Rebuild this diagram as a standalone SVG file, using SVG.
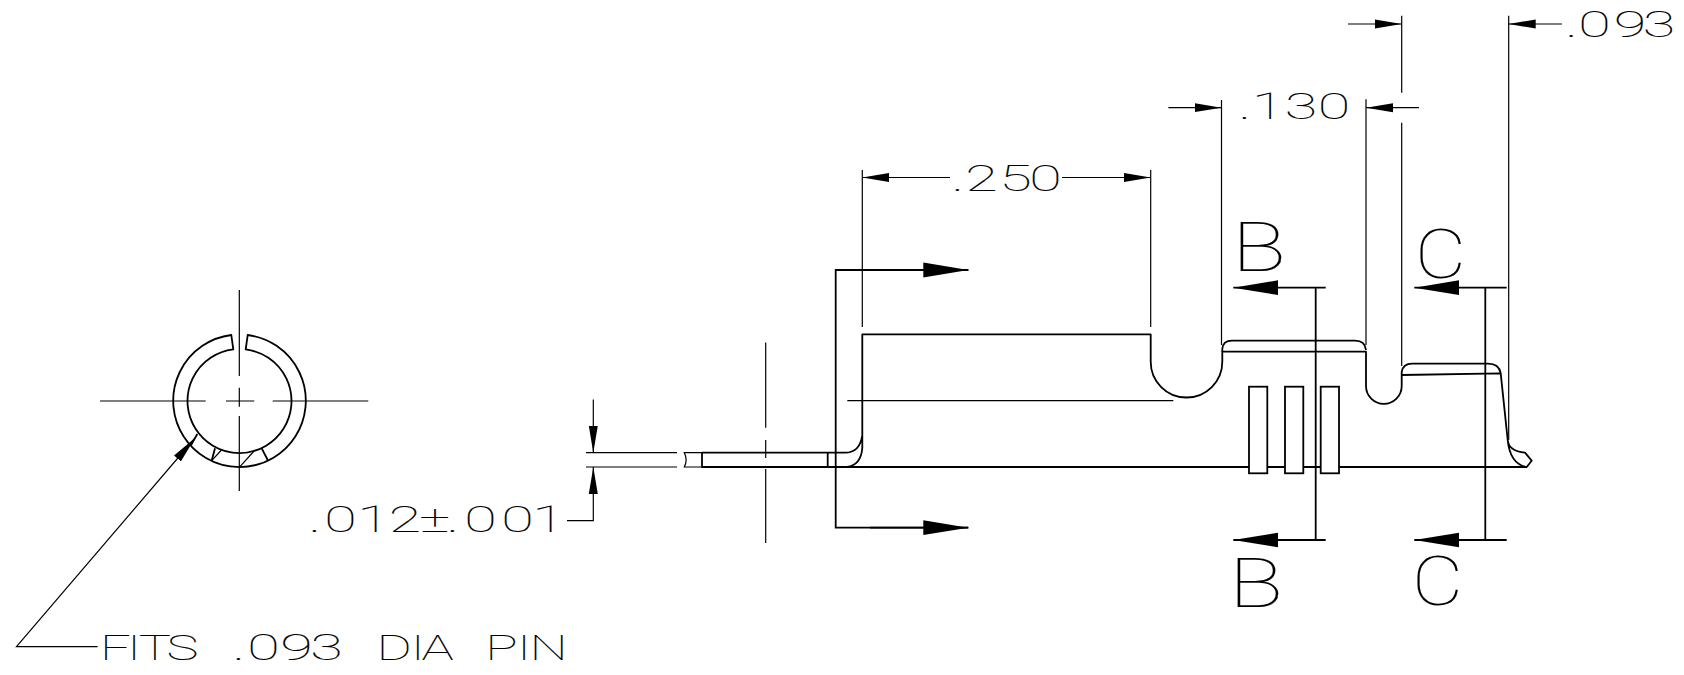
<svg xmlns="http://www.w3.org/2000/svg" width="1684" height="675" viewBox="0 0 1684 675">
<style>
.o{fill:none;stroke:#000;stroke-width:1.8;stroke-linejoin:round}
.t{fill:none;stroke:#000;stroke-width:1.2}
.s{fill:none;stroke:#000;stroke-width:1.8}
.w{fill:#fff;stroke:#000;stroke-width:1.8}
.sm{marker-end:url(#as)}
.bg{marker-end:url(#ab)}
text{font-family:Roboto,"Liberation Sans",sans-serif;font-weight:100;fill:#000;stroke:#000;stroke-width:.1}
.d{font-size:36px;text-anchor:middle}
.l{font-size:69px}
</style>
<defs>
<marker id="as" markerUnits="userSpaceOnUse" markerWidth="28" markerHeight="10" refX="27" refY="5" orient="auto"><path d="M0 .5L27 5L0 9.5z"/></marker>
<marker id="ab" markerUnits="userSpaceOnUse" markerWidth="46" markerHeight="16" refX="45" refY="8" orient="auto"><path d="M0 .6L45 8L0 15.4z"/></marker>
</defs>
<rect width="1684" height="675" fill="#fff"/>
<g id="ring-view">
<path class="o" d="M247.7 335A66.3 66.3 0 1 1 231.3 335L233.3 349.4A52 52 0 1 0 245.7 349.4Z"/>
<path class="o" d="M197.3 434L190.7 445.7M215 448.3L211.7 460.7M261.7 448.3L267.7 460"/>
<path class="t" d="M221.5 450L211.7 460.7M255 450L239.3 467.3M239.3 290V376M239.3 387.7V406.7M239.3 416V491M100 401H205.7M226 401H254.3M272.7 401H368.3"/>
</g>
<g id="profile">
<path class="o" d="M862.3 435V334.3H1150.7V361.7A35.8 35.8 0 0 0 1222.3 361.7V351.7H1366V386A17.85 17.85 0 0 0 1401.7 386V375L1500.7 373.3L1507.7 440Q1508.5 451 1525 452.7L1531.7 460.7L1526.7 467Q1510 464 1507.7 440"/>
<path class="o" d="M1222.3 351.7V349Q1223 340.7 1232 340.7H1355Q1365 340.7 1366 350M1401.7 375V372Q1403 363.7 1412 363.7H1488Q1499 363.7 1500.7 373.3"/>
<path class="o" d="M862.3 435Q860 452.7 845 452.7H702M862.3 435V448Q861 465 847 467M1526.7 467H702V452.7M827.7 452.7V467"/>
<path class="t" d="M702 452.7H684.3Q688 460 684.3 467H702"/>
<rect class="w" x="1249" y="386.7" width="18.3" height="86.6"/>
<rect class="w" x="1285" y="386.7" width="18.3" height="86.6"/>
<rect class="w" x="1320.7" y="386.7" width="18.3" height="86.6"/>
<path class="t" d="M847.3 400.7H1173.3M765.7 342.6V427.7M765.7 440V458M765.7 469V543"/>
</g>
<g id="connectors">
<path class="t" d="M862.3 170V327M1150.7 170V327M1221.5 100V345M1366 99.3V345M1401.7 15.7V92.7M1401.7 122.7V366M1508.7 15.7V440M586 452.7H677M586 467H677"/>
<path class="t sm" d="M950 177.5H862.3"/>
<path class="t sm" d="M1062 177.5H1150.7"/>
<path class="t sm" d="M1168.4 107.7H1221.5"/>
<path class="t sm" d="M1419 107.7H1366"/>
<path class="t sm" d="M1348 24H1401.7"/>
<path class="t sm" d="M1562 24H1508.7"/>
<path class="t sm" d="M593.3 399.5V452.7"/>
<path class="t sm" d="M567 520.7H593.3V467"/>
<path class="t sm" d="M97.6 646.7H16.5L195 438"/>
<path class="s" d="M968.3 270H835.7V527.7H968.3M1315.7 287.7V540M1485.3 287.7V540"/>
<path class="s bg" d="M870 270H968.3"/>
<path class="s bg" d="M870 527.7H968.3"/>
<path class="s bg" d="M1325.7 287.7H1233.3"/>
<path class="s bg" d="M1325.7 540H1233.3"/>
<path class="s bg" d="M1506.7 287.7H1414.3"/>
<path class="s bg" d="M1506.7 540H1414.3"/>
</g>
<g id="labels">
<text class="d" transform="scale(1.65 1)" x="580.6 594.8 615.5 633.6" y="191.5">.250</text>
<text class="d" transform="scale(1.65 1)" x="754.5 768.5 788.5 808.5" y="119.5">.130</text>
<text class="d" transform="scale(1.65 1)" x="952.5 966.4 987.9 1005.5" y="36.7">.093</text>
<text class="d" transform="scale(1.65 1)" x="190.9 206.4 226.4 245.5 263.6 274.4 291.2 313.6 332.4" y="532.5">.012±.001</text>
<text class="d" transform="scale(1.5 1)" x="77 89.3 103.3 121.7" y="660">FITS</text>
<text class="d" transform="scale(1.65 1)" x="144.8 159.7 179.7 197.9" y="660">.093</text>
<text class="d" transform="scale(1.5 1)" x="262.7 278.5 291.7" y="660">DIA</text>
<text class="d" transform="scale(1.5 1)" x="334.3 349.3 365.7" y="660">PIN</text>
<text class="l" x="1232" y="271" textLength="54" lengthAdjust="spacingAndGlyphs">B</text>
<text class="l" x="1415" y="278" textLength="51" lengthAdjust="spacingAndGlyphs">C</text>
<text class="l" x="1229" y="607" textLength="54" lengthAdjust="spacingAndGlyphs">B</text>
<text class="l" x="1412" y="605" textLength="51" lengthAdjust="spacingAndGlyphs">C</text>
</g>
</svg>
